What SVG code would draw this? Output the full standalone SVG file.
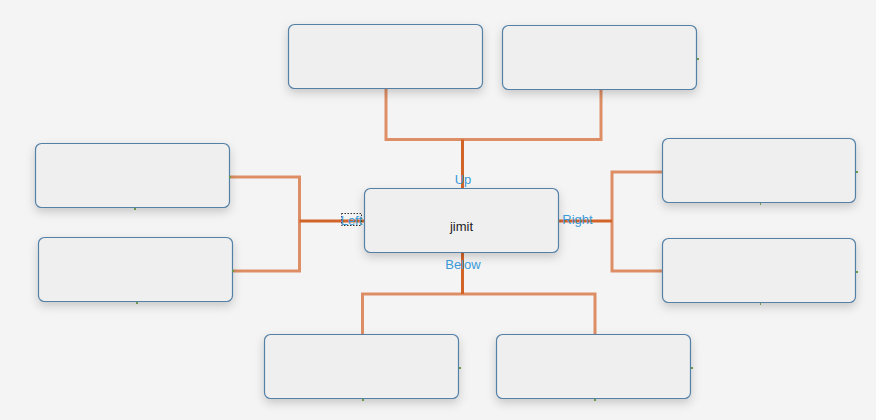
<svg xmlns="http://www.w3.org/2000/svg" width="876" height="420" viewBox="0 0 876 420">
<defs>
<filter id="sh" x="-20%" y="-30%" width="140%" height="170%">
<feDropShadow dx="0" dy="4" stdDeviation="5" flood-color="#000" flood-opacity="0.18"/>
</filter>
<style>
.node rect.box{fill:#efefef;stroke:#5580a6;stroke-width:1.2;filter:url(#sh)}
.trunk{fill:none;stroke:#d2642a;stroke-width:3}
.branch{fill:none;stroke:#da8050;stroke-width:3;stroke-opacity:0.88}
.lbl{font-family:"Liberation Sans",Arial,sans-serif;font-size:13px;fill:#3a9ad9;text-anchor:middle}
.main{font-family:"Liberation Sans",Arial,sans-serif;font-size:13px;fill:#222;text-anchor:middle}
.port{fill:#6a9a4a}
</style>
</defs>
<rect width="876" height="420" fill="#f4f4f4"/>
<g id="connectors">
<path class="branch" d="M386 89V139.5H601V90"/>
<path class="trunk" d="M462.5 139.5V188"/>
<path class="branch" d="M230 177H299.5V271H233"/>
<path class="trunk" d="M299.5 221H364"/>
<path class="branch" d="M662 172H612V271H662"/>
<path class="trunk" d="M559 221H612"/>
<path class="branch" d="M362.5 334V294H595V334"/>
<path class="trunk" d="M462.5 253V294"/>
</g>
<g id="node-center" class="node">
<rect class="box" x="364.5" y="188.5" width="194" height="64" rx="6"/>
<text class="main" x="461.5" y="231">jimit</text>
</g>
<g id="node-up1" class="node"><rect class="box" x="288.5" y="24.5" width="194" height="64" rx="6"/></g>
<g id="node-up2" class="node"><rect class="box" x="502.5" y="25.5" width="194" height="64" rx="6"/></g>
<g id="node-left1" class="node"><rect class="box" x="35.5" y="143.5" width="194" height="64" rx="6"/></g>
<g id="node-left2" class="node"><rect class="box" x="38.5" y="237.5" width="194" height="64" rx="6"/></g>
<g id="node-right1" class="node"><rect class="box" x="662.5" y="138.5" width="193" height="64" rx="6"/></g>
<g id="node-right2" class="node"><rect class="box" x="662.5" y="238.5" width="193" height="64" rx="6"/></g>
<g id="node-below1" class="node"><rect class="box" x="264.5" y="334.5" width="194" height="64" rx="6"/></g>
<g id="node-below2" class="node"><rect class="box" x="496.5" y="334.5" width="194" height="64" rx="6"/></g>
<g id="ports">
<rect class="port" x="229" y="176" width="2" height="2"/>
<rect class="port" x="134" y="208" width="2" height="2"/>
<rect class="port" x="232" y="270" width="2" height="2"/>
<rect class="port" x="136" y="302" width="2" height="2"/>
<rect class="port" x="856" y="171" width="2" height="2"/>
<rect class="port" x="856" y="271" width="2" height="2"/>
<rect class="port" x="760" y="203" width="1" height="2"/>
<rect class="port" x="760" y="303" width="1" height="2"/>
<rect class="port" x="459" y="367" width="2" height="2"/>
<rect class="port" x="691" y="367" width="2" height="2"/>
<rect class="port" x="362" y="399" width="2" height="2"/>
<rect class="port" x="594" y="399" width="2" height="2"/>
<rect class="port" x="697" y="58" width="2" height="2"/>
</g>
<g id="labels">
<text class="lbl" x="463" y="184">Up</text>
<text class="lbl" x="463" y="269">Below</text>
<text class="lbl" x="577.5" y="223.5">Right</text>
<rect x="341.5" y="213.5" width="20" height="12" fill="none" stroke="#333" stroke-width="1" stroke-dasharray="1.5,1.5"/>
<text class="lbl" x="351.5" y="224.5">Left</text>
</g>
</svg>
